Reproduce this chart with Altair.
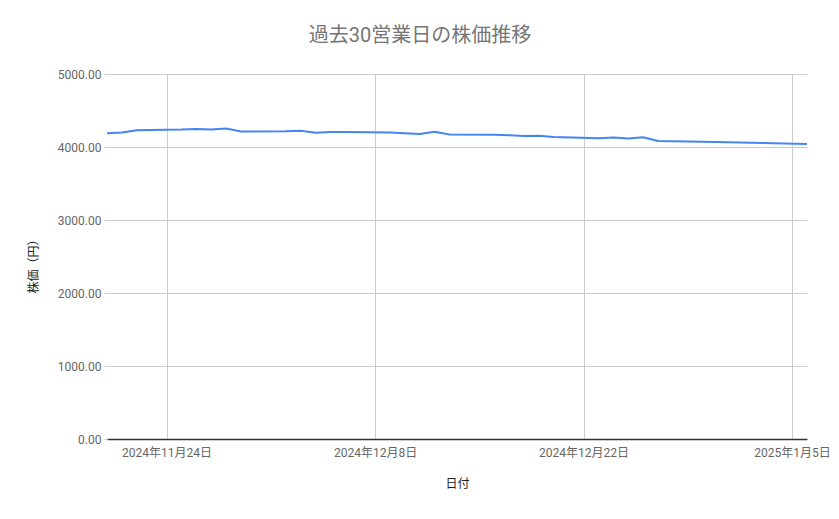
import altair as alt
import pandas as pd

dates = [
    "2024-11-20", "2024-11-21", "2024-11-22", "2024-11-25", "2024-11-26",
    "2024-11-27", "2024-11-28", "2024-11-29", "2024-12-02", "2024-12-03",
    "2024-12-04", "2024-12-05", "2024-12-06", "2024-12-09", "2024-12-10",
    "2024-12-11", "2024-12-12", "2024-12-13", "2024-12-16", "2024-12-17",
    "2024-12-18", "2024-12-19", "2024-12-20", "2024-12-23", "2024-12-24",
    "2024-12-25", "2024-12-26", "2024-12-27", "2024-12-30", "2025-01-06",
]
prices = [
    4188, 4198, 4230, 4240, 4248,
    4240, 4252, 4212, 4215, 4222,
    4194, 4205, 4205, 4200, 4190,
    4178, 4210, 4170, 4168, 4162,
    4152, 4155, 4138, 4120, 4130,
    4118, 4132, 4082, 4072, 4040,
]

df = pd.DataFrame({"date": dates, "price": prices})

FONT = "Roboto, 'Noto Sans CJK JP', sans-serif"

chart = alt.Chart(df).mark_line(color="#4285f4", strokeWidth=2).encode(
    x=alt.X(
        "date:T",
        scale=alt.Scale(type="utc", nice=False),
        axis=alt.Axis(
            title="日付",
            format="%Y年%-m月%-d日",
            values=[
                alt.DateTime(year=2024, month=11, date=24, utc=True),
                alt.DateTime(year=2024, month=12, date=8, utc=True),
                alt.DateTime(year=2024, month=12, date=22, utc=True),
                alt.DateTime(year=2025, month=1, date=5, utc=True),
            ],
            grid=True,
            gridColor="#cccccc",
            ticks=False,
            domain=True,
            domainColor="#333333",
            domainWidth=1.5,
            labelPadding=8,
            labelFontSize=12,
            labelColor="#666666",
            labelFont=FONT,
            titleFont=FONT,
            titleFontSize=12,
            titleColor="#222222",
            titleFontWeight="normal",
            titlePadding=20,
        ),
    ),
    y=alt.Y(
        "price:Q",
        scale=alt.Scale(domain=[0, 5000], nice=False),
        axis=alt.Axis(
            title="株価（円）",
            format=".2f",
            values=[0, 1000, 2000, 3000, 4000, 5000],
            grid=True,
            gridColor="#cccccc",
            domain=False,
            ticks=True,
            tickSize=3,
            tickColor="#cccccc",
            labelPadding=3,
            labelFontSize=12,
            labelColor="#666666",
            labelFont=FONT,
            titleFont=FONT,
            titleFontSize=12,
            titleColor="#222222",
            titleFontWeight="normal",
            titleAngle=-90,
            titleX=-74,
            titleY=189,
            titleAlign="center",
            titleBaseline="middle",
        ),
    ),
).properties(
    width=700,
    height=365,
    title=alt.TitleParams(
        "過去30営業日の株価推移",
        font=FONT,
        fontSize=20,
        fontWeight="normal",
        color="#757575",
        anchor="middle",
        baseline="bottom",
        offset=2,
        dx=-37,
    ),
    autosize=alt.AutoSizeParams(type="none"),
    padding={"left": 99, "top": 66, "right": 24, "bottom": 70},
).configure_view(stroke=None)

chart.save("out.html", embed_options={"renderer": "svg", "actions": False})
